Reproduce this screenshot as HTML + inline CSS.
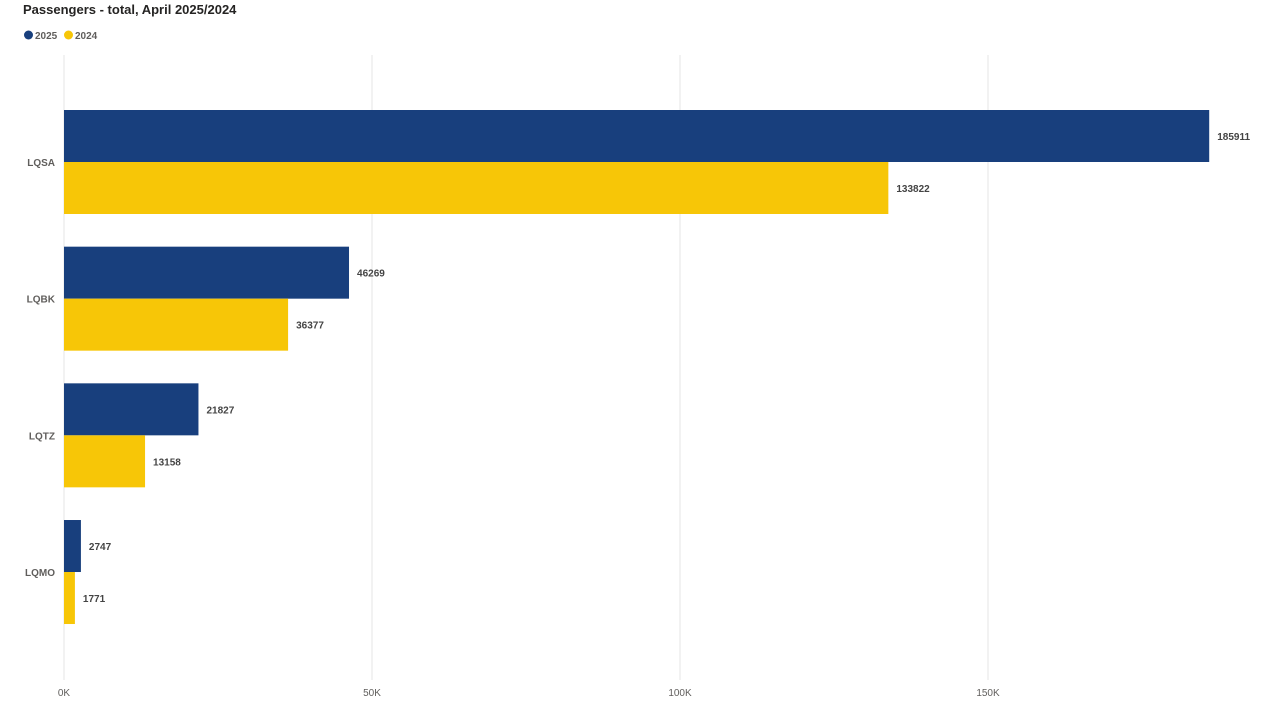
<!DOCTYPE html>
<html><head><meta charset="utf-8"><style>
body{margin:0;background:#fff;width:1280px;height:720px;overflow:hidden;font-family:"Liberation Sans",sans-serif}
</style></head><body>
<svg id="chart" width="1280" height="720" xmlns="http://www.w3.org/2000/svg">
<text x="23" y="14" font-size="13" font-weight="bold" fill="#252423">Passengers - total, April 2025/2024</text>
<g>
<circle cx="28.5" cy="35" r="4.5" fill="#183F7D"/>
<text x="35" y="39" font-size="10" font-weight="bold" fill="#605E5C">2025</text>
<circle cx="68.5" cy="35" r="4.5" fill="#F7C607"/>
<text x="75" y="39" font-size="10" font-weight="bold" fill="#605E5C">2024</text>
</g>
<g id="grid"></g><g id="bars"></g><g id="labels"></g>
</svg>
<script>
const categories=["LQSA","LQBK","LQTZ","LQMO"];
const values2025=[185911,46269,21827,2747];
const values2024=[133822,36377,13158,1771];
const ticks=[0,50000,100000,150000];
const tickLabels=["0K","50K","100K","150K"];
const NS="http://www.w3.org/2000/svg";
const x0=64,pxPer=308/50000;
const X=v=>x0+v*pxPer;
const Yc=i=>162+i*136.67;
const bh=52;
function mk(t,a,p){const e=document.createElementNS(NS,t);for(const k in a)e.setAttribute(k,a[k]);p.appendChild(e);return e;}
const grid=document.getElementById('grid'),bars=document.getElementById('bars'),labels=document.getElementById('labels');
ticks.forEach((t,i)=>{
 const l=mk('line',{x1:X(t),x2:X(t),y1:55,y2:680,stroke:'#e6e6e6','stroke-width':1},grid);
 
 
 const tx=mk('text',{x:X(t),y:696,'font-size':10,fill:'#605E5C','text-anchor':'middle'},grid);
 tx.textContent=tickLabels[i];
 
 
});
categories.forEach((c,i)=>{
 const yc=Yc(i);
 const cl=mk('text',{x:55,y:yc+4,'font-size':10,'font-weight':'bold',fill:'#605E5C','text-anchor':'end'},labels);
 cl.textContent=c;
 
 
 [[values2025[i],'#183F7D',yc-bh,'2025'],[values2024[i],'#F7C607',yc,'2024']].forEach(([v,col,y,s])=>{
  const r=mk('rect',{x:x0,y:y,width:X(v)-x0,height:bh,fill:col},bars);
  
  
  const t=mk('text',{x:X(v)+8,y:y+bh/2+4,'font-size':10,'font-weight':'bold',fill:'#444'},labels);
  t.textContent=v;
  
  
 });
});
</script>
</body></html>
